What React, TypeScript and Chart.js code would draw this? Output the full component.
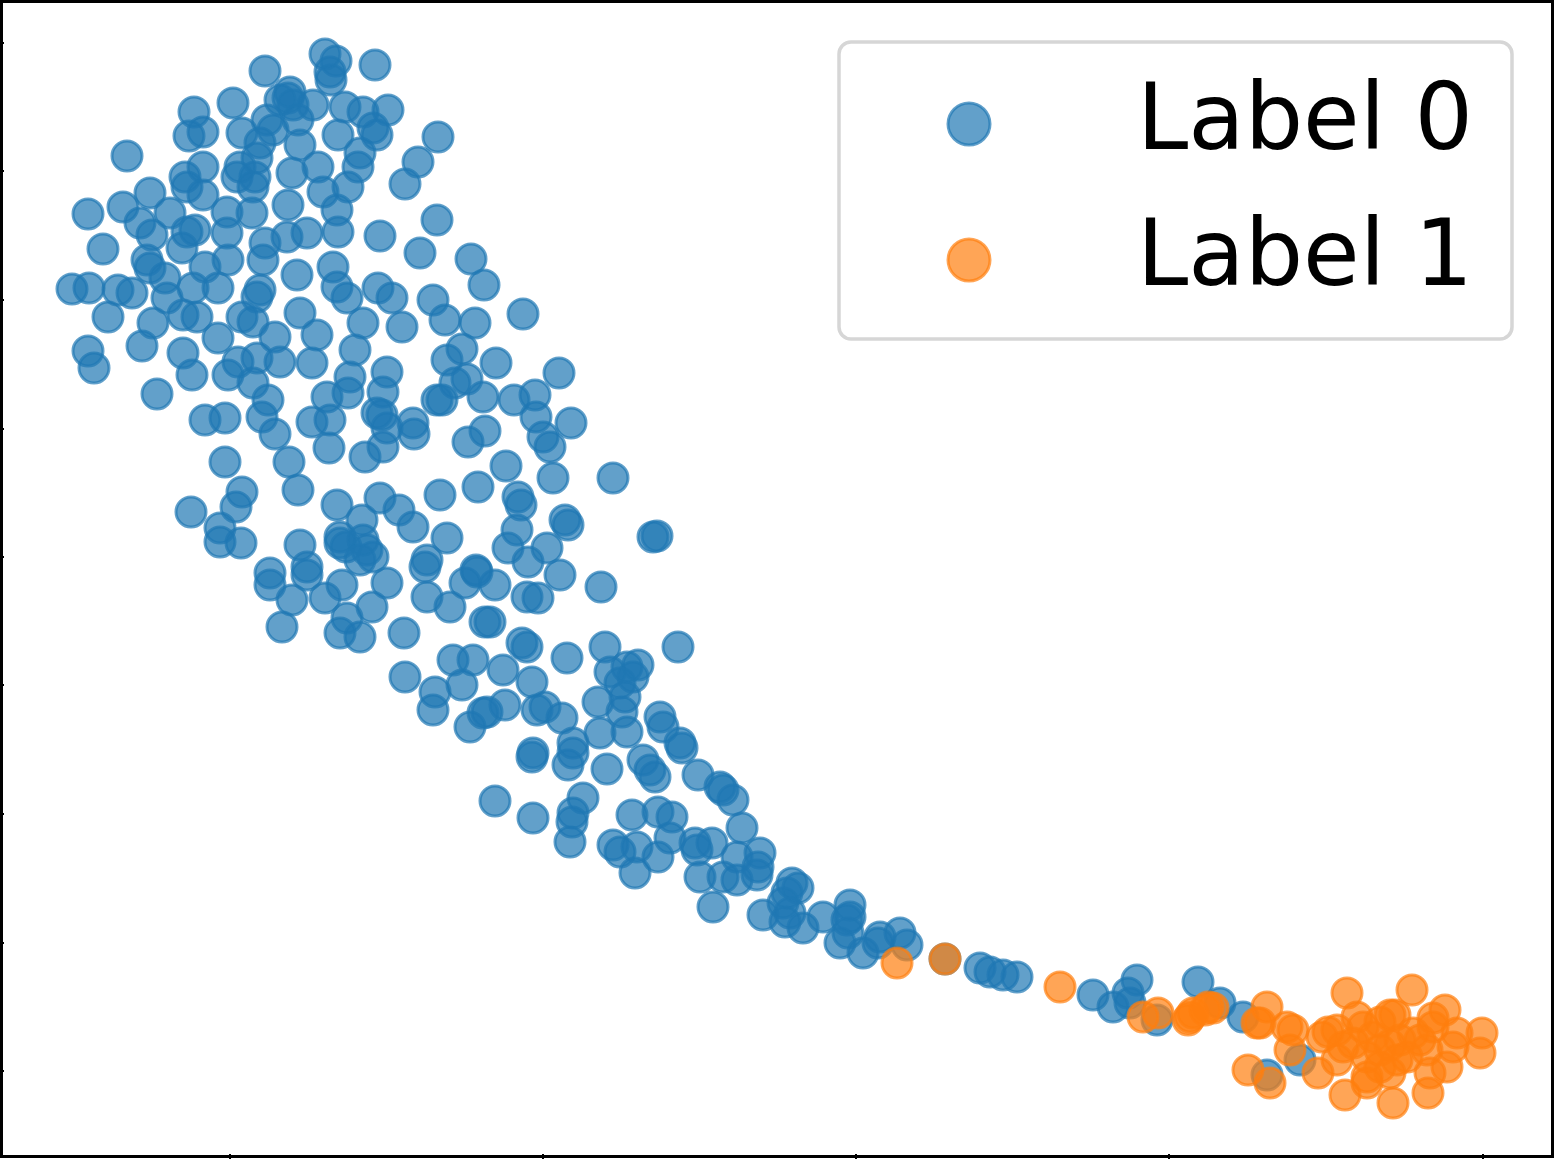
import { useEffect, useRef } from "react";
import { Chart, registerables } from "chart.js";

Chart.register(...registerables);

// Embedding values (x, y) for each class
const label0: [number, number][] = [
  [32.5,5.4],[33.6,6.1],[33.0,7.2],[33.1,8.0],[37.5,6.5],[26.5,7.1],[29.0,9.2],[28.0,10.0],[28.8,9.8],[29.3,10.5],
  [31.3,10.5],[23.3,10.3],[19.4,11.2],[18.9,13.6],[20.3,13.2],[24.2,13.3],[26.7,12.0],[27.3,13.0],[29.8,12.0],[34.5,10.7],
  [36.3,11.2],[38.8,11.0],[33.8,13.5],[37.3,12.8],[37.7,13.5],[43.8,13.7],[12.7,15.6],[30.0,14.5],[36.0,15.3],[35.8,16.7],
  [41.8,16.2],[40.5,18.4],[18.5,17.7],[20.3,16.7],[18.7,18.7],[20.3,19.5],[24.0,16.7],[23.7,17.7],[25.5,17.7],[25.3,18.7],
  [25.7,15.8],[26.0,14.3],[29.2,17.3],[31.8,16.7],[32.3,19.2],[34.8,18.7],[33.7,21.0],[33.8,23.2],[28.8,20.5],[25.2,21.3],
  [22.7,21.2],[8.8,21.4],[12.3,20.7],[15.0,19.3],[17.0,21.3],[14.0,22.3],[15.2,23.5],[18.7,23.2],[19.5,23.0],[22.7,23.3],
  [18.2,24.8],[10.3,24.9],[26.5,24.3],[26.3,26.0],[28.7,23.7],[30.7,23.3],[43.7,22.0],[38.0,23.6],[42.0,25.3],[15.0,26.8],
  [14.7,26.0],[16.5,27.8],[20.5,26.7],[22.8,26.0],[29.7,27.5],[33.3,26.7],[7.2,28.9],[8.9,28.8],[11.8,29.0],[13.2,29.3],
  [16.7,29.8],[10.8,31.7],[19.3,28.8],[21.8,28.8],[26.0,29.0],[25.7,29.7],[33.7,28.7],[34.7,29.8],[37.8,28.8],[39.2,29.8],
  [43.3,30.0],[44.5,32.0],[18.3,31.5],[19.7,31.7],[15.3,32.3],[24.2,31.7],[25.3,32.2],[30.0,31.3],[31.7,33.5],[36.3,32.3],
  [40.2,32.7],[27.5,33.7],[21.8,33.8],[8.8,35.1],[9.4,36.8],[14.2,34.6],[18.3,35.3],[19.2,37.5],[23.8,36.2],[22.8,37.5],
  [25.7,35.8],[25.3,38.3],[28.0,36.2],[31.2,36.3],[35.5,35.0],[35.0,37.7],[34.8,39.3],[38.7,37.2],[38.3,39.2],[44.7,36.0],
  [43.7,40.0],[15.7,39.4],[32.7,39.7],[26.8,40.0],[26.2,41.7],[20.5,42.0],[22.5,41.8],[31.2,42.2],[33.0,42.0],[37.7,41.3],
  [41.3,42.3],
  [47.1,25.9],[48.4,28.5],[47.5,32.3],[52.3,31.4],[46.2,34.9],[49.6,36.3],[55.9,37.3],[46.7,37.9],[45.5,38.3],[44.2,40.0],
  [48.3,39.7],[51.4,40.0],[53.5,39.5],[53.6,41.7],[57.1,42.3],[54.3,43.7],[55.0,44.7],[41.4,43.4],[48.5,43.1],[46.8,44.2],
  [50.6,46.6],[55.3,47.8],[61.3,47.8],[47.8,48.7],[44.0,49.5],[51.8,49.7],[52.1,50.5],
  [27.5,43.4],[32.9,44.8],[36.5,45.7],[38.3,44.7],[38.2,41.5],[38.7,42.8],[22.5,46.2],[28.9,46.2],[24.2,49.2],[23.6,50.7],
  [19.1,51.2],[22.0,52.8],[22.0,54.2],[24.1,54.3],[29.8,49.0],[33.7,50.5],[36.2,52.0],[38.0,49.8],[39.9,51.0],[41.3,52.7],
  [51.7,53.0],[50.8,54.8],[54.7,54.8],[52.8,56.2],[56.5,52.0],[56.8,52.5],[56.0,57.5],[34.0,53.7],[34.0,54.3],[34.6,54.7],
  [36.3,54.0],[36.7,55.0],[37.3,55.7],[36.0,56.0],[30.0,54.5],[27.0,57.3],[27.0,58.5],[29.2,60.0],[30.7,56.7],[30.7,57.5],
  [34.2,58.5],[32.5,59.8],[38.7,58.3],[37.2,60.7],[34.7,61.8],[34.0,63.3],[36.0,63.7],[28.2,62.7],[42.7,56.0],[42.5,56.7],
  [44.7,53.8],[47.7,57.2],[46.5,58.3],[49.5,58.5],[42.7,59.7],[45.0,60.7],[48.5,62.2],[49.0,62.2],[52.7,59.7],[53.8,59.8],
  [40.4,63.3],[52.2,64.3],[52.7,64.7],[45.3,66.0],[47.3,66.0],[50.3,67.0],[56.7,65.8],[40.5,67.7],
  [65.3,53.7],[65.7,53.6],[60.1,58.7],[47.6,57.0],[60.5,64.7],[67.8,64.7],[53.2,68.2],[43.5,69.2],[43.3,71.0],[46.2,68.5],
  [61.0,67.2],[62.7,66.7],[63.8,66.5],[63.3,67.7],[62.5,69.7],[62.0,68.3],[59.8,70.2],[62.2,71.2],[48.3,71.3],[48.7,71.2],
  [50.5,70.5],[47.0,72.7],[53.7,71.0],[54.5,70.7],[56.2,71.8],[60.0,73.3],[62.7,73.2],[66.0,71.7],[66.3,72.7],[68.0,74.3],
  [57.3,74.3],
  [53.3,75.3],[53.2,75.7],[57.3,75.3],[56.8,76.5],[60.7,76.9],[64.3,76.0],[65.0,77.0],[65.5,77.7],[68.2,74.8],[69.8,77.5],
  [72.0,78.7],[72.3,79.0],[73.3,80.0],[49.5,80.1],[53.3,81.8],[58.3,79.8],[57.3,81.3],[57.2,82.2],[57.0,84.2],[63.2,81.5],
  [65.8,81.2],[67.2,81.7],[67.0,83.8],[61.3,84.5],[62.0,85.2],[63.7,84.7],[65.8,85.7],[63.5,87.3],[69.5,84.3],[69.7,85.0],
  [71.2,84.3],[74.2,82.8],[76.0,85.3],[75.8,86.7],[75.7,87.5],[73.7,85.7],[70.0,87.7],[72.3,87.7],[73.7,88.0],[71.3,90.7],
  [79.2,88.3],[79.8,88.8],[78.7,89.3],[78.3,90.3],[79.0,91.3],[76.3,91.5],[78.5,92.2],[80.3,92.8],[82.3,91.7],[85.0,90.5],
  [84.7,92.0],[84.0,94.3],[84.8,93.3],[86.3,95.3],[88.0,93.7],
  [85.0,91.7],[87.8,94.3],[90.0,93.3],[90.7,94.5],[94.5,95.9],[98.0,96.8],[99.0,97.2],[100.3,97.5],[101.7,97.7],[109.3,99.5],
  [111.3,100.7],[113.7,98.0],[112.8,99.3],[113.0,100.3],[115.7,102.0],[119.8,98.2],[122.0,100.3],[124.3,101.7],[130.0,106.0],[126.7,107.5],
];

const label1: [number, number][] = [
  [89.7,96.3],[94.5,95.9],[106.0,98.7],[114.3,101.7],[115.8,101.3],[118.8,102.0],[119.3,101.3],[120.8,100.7],[121.3,100.8],[119.0,101.7],
  [120.5,101.0],[125.7,102.3],[126.7,100.7],[126.0,102.3],[128.7,102.7],[129.3,103.0],[129.0,105.0],[124.8,107.0],[127.0,108.3],[131.8,107.3],
  [134.7,99.3],[132.8,103.2],[133.7,103.0],[135.7,101.7],[138.0,102.2],[139.0,101.5],[139.5,101.5],[141.2,99.0],[144.5,101.0],[143.3,101.8],
  [148.2,103.3],[148.0,105.3],[134.3,104.7],[135.3,104.3],[133.7,106.0],[136.7,105.7],[138.0,105.0],[139.0,104.5],[140.0,104.0],[140.7,105.7],
  [136.7,107.7],[136.7,108.3],[139.0,107.3],[134.5,109.5],[139.3,110.3],[142.8,109.3],[143.0,107.3],[144.7,106.7],[145.3,104.7],[145.7,103.3],
  [142.0,104.0],[142.7,105.0],[136.3,102.7],[137.3,103.7],[141.3,103.3],[139.7,106.0],[138.0,106.7],[143.3,102.7],[132.2,103.7],
];

const seriesNames = ["Label 0", "Label 1"];
const seriesRGB = ["31,119,180", "255,127,14"];
const xTicks = [23.0, 54.3, 85.6, 116.9, 148.3];
const yTicks = [4.3, 17.15, 30.0, 42.85, 55.7, 68.55, 81.4, 94.25, 107.1];

export default function App() {
  const ref = useRef<HTMLCanvasElement>(null);

  useEffect(() => {
    document.body.style.margin = "0";
    const canvas = ref.current;
    if (!canvas) return;

    const framePlugin = {
      id: "frameAndLegend",
      afterDraw(chart: any) {
        const ctx = chart.ctx as CanvasRenderingContext2D;
        const xs = chart.scales.x;
        const ys = chart.scales.y;
        const W = chart.width;
        const H = chart.height;
        ctx.save();
        // axes frame
        ctx.strokeStyle = "#000";
        ctx.lineWidth = 3;
        ctx.strokeRect(1.5, 1.5, W - 3, H - 4);
        // tick marks
        ctx.lineWidth = 2;
        ctx.beginPath();
        yTicks.forEach((v) => {
          const p = Math.round(ys.getPixelForValue(v));
          ctx.moveTo(0, p);
          ctx.lineTo(4, p);
        });
        xTicks.forEach((v) => {
          const p = Math.round(xs.getPixelForValue(v));
          ctx.moveTo(p, H - 5);
          ctx.lineTo(p, H);
        });
        ctx.stroke();

        // legend
        const bx = 839, by = 42, bw = 673, bh = 297, r = 12;
        ctx.beginPath();
        ctx.moveTo(bx + r, by);
        ctx.lineTo(bx + bw - r, by);
        ctx.arcTo(bx + bw, by, bx + bw, by + r, r);
        ctx.lineTo(bx + bw, by + bh - r);
        ctx.arcTo(bx + bw, by + bh, bx + bw - r, by + bh, r);
        ctx.lineTo(bx + r, by + bh);
        ctx.arcTo(bx, by + bh, bx, by + bh - r, r);
        ctx.lineTo(bx, by + r);
        ctx.arcTo(bx, by, bx + r, by, r);
        ctx.closePath();
        ctx.fillStyle = "rgba(255,255,255,0.8)";
        ctx.fill();
        ctx.strokeStyle = "#d6d6d6";
        ctx.lineWidth = 3.5;
        ctx.stroke();

        seriesNames.forEach((name, i) => {
          const cy = 124 + i * 136;
          ctx.beginPath();
          ctx.arc(969, cy, 21, 0, Math.PI * 2);
          ctx.fillStyle = `rgba(${seriesRGB[i]},0.7)`;
          ctx.fill();
          ctx.strokeStyle = `rgba(${seriesRGB[i]},0.7)`;
          ctx.lineWidth = 3;
          ctx.stroke();
          ctx.fillStyle = "#000";
          ctx.font = "92px 'DejaVu Sans'";
          ctx.textBaseline = "alphabetic";
          ctx.textAlign = "left";
          ctx.fillText(name, 1137, 149 + i * 136);
        });
        ctx.restore();
      },
    };

    const chart = new Chart(canvas, {
      type: "scatter",
      data: {
        datasets: [
          {
            label: seriesNames[0],
            data: label0.map(([x, y]) => ({ x, y })),
            backgroundColor: `rgba(${seriesRGB[0]},0.7)`,
            borderColor: `rgba(${seriesRGB[0]},0.7)`,
            borderWidth: 3,
            pointRadius: 15,
            pointHoverRadius: 15,
            order: 2,
          },
          {
            label: seriesNames[1],
            data: label1.map(([x, y]) => ({ x, y })),
            backgroundColor: `rgba(${seriesRGB[1]},0.7)`,
            borderColor: `rgba(${seriesRGB[1]},0.7)`,
            borderWidth: 3,
            pointRadius: 15,
            pointHoverRadius: 15,
            order: 1,
          },
        ],
      },
      options: {
        responsive: false,
        animation: false,
        events: [],
        layout: { padding: 0, autoPadding: false },
        plugins: { legend: { display: false }, tooltip: { enabled: false } },
        scales: {
          x: { type: "linear", min: 0, max: 155.4, display: false },
          y: { type: "linear", min: 0, max: 115.9, reverse: true, display: false },
        },
      },
      plugins: [framePlugin],
    });
    return () => chart.destroy();
  }, []);

  return <canvas ref={ref} width={1554} height={1159} style={{ display: "block" }} />;
}
